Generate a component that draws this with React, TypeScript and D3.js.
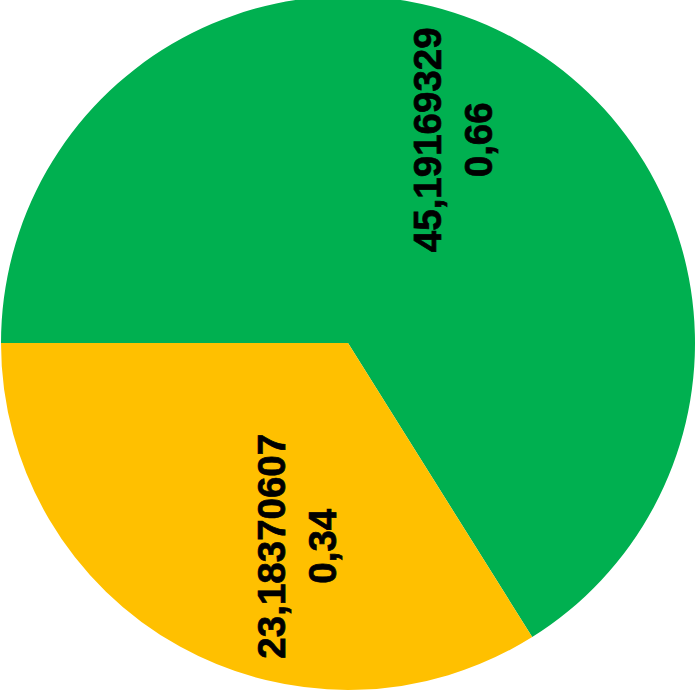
import * as d3 from "d3";

const categories = ["A", "B"];
const values = [45.19169329, 23.18370607];
const shares = ["0,66", "0,34"];
const valueLabels = ["45,19169329", "23,18370607"];
const colors = ["#00B050", "#FFC000"];

const W = 695;
const H = 698;
const cx = 348;
const cy = 343;
const R = 347;
// Excel's best-fit placement pushes the labels a bit off the centroid
const labelNudge: [number, number][] = [
  [1, -15],
  [53, 15],
];

type Slice = { cat: string; value: number; i: number };

export default function App() {
  const data: Slice[] = categories.map((c, i) => ({ cat: c, value: values[i], i }));

  const pie = d3
    .pie<Slice>()
    .value((d) => d.value)
    .sort(null)
    .startAngle(-Math.PI / 2)
    .endAngle((3 * Math.PI) / 2);

  const arc = d3.arc<d3.PieArcDatum<Slice>>().innerRadius(0).outerRadius(R);
  const labelArc = d3
    .arc<d3.PieArcDatum<Slice>>()
    .innerRadius(R * 0.62)
    .outerRadius(R * 0.62);

  const arcs = pie(data);

  return (
    <svg
      width={W}
      height={H}
      style={{ position: "absolute", left: 0, top: 0, background: "#fff" }}
    >
      <g transform={`translate(${cx},${cy})`}>
        {arcs.map((a) => (
          <path key={a.data.cat} d={arc(a) || ""} fill={colors[a.data.i]} />
        ))}
        {arcs.map((a) => {
          const [x, y] = labelArc.centroid(a);
          const [nx, ny] = labelNudge[a.data.i];
          return (
            <g
              key={"l" + a.data.cat}
              transform={`translate(${x + nx},${y + ny}) rotate(-90)`}
              fontFamily="'Liberation Sans', Arial, sans-serif"
              fontWeight="bold"
              fontSize={38.5}
              fill="#000"
              stroke="#000"
              strokeWidth={0.7}
              textAnchor="middle"
            >
              <text y={-25.5} dominantBaseline="central">
                {valueLabels[a.data.i]}
              </text>
              <text y={25.5} dominantBaseline="central">
                {shares[a.data.i]}
              </text>
            </g>
          );
        })}
      </g>
    </svg>
  );
}
